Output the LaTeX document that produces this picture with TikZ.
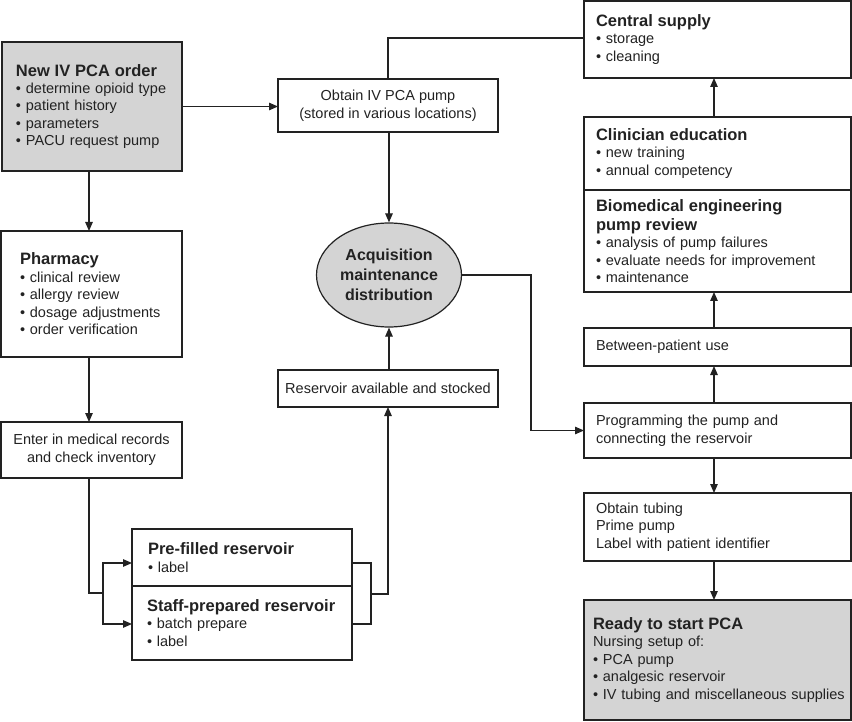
\documentclass[tikz,border=0pt]{standalone}
\usepackage{fontspec}
\setmainfont{Liberation Sans}
\usetikzlibrary{shapes.geometric,arrows.meta,calc}
\definecolor{ink}{HTML}{222222}
\definecolor{shade}{HTML}{D4D4D4}
\newcommand\boxtitle[1]{{\fontsize{16.5}{19}\selectfont\bfseries #1\par}}
\begin{document}
\begin{tikzpicture}[x=1pt,y=-1pt,line width=1.2pt,
  every node/.style={font=\fontsize{14.5}{17.5}\selectfont, text=ink,
    execute at begin node={\hyphenpenalty=10000\exhyphenpenalty=10000\hfuzz=20pt}},
  box/.style={draw=ink, rectangle, inner ysep=0pt, outer sep=0pt},
  gbox/.style={box, fill=shade},
  lft/.style={align=left},
  ctr/.style={align=center, inner xsep=0pt},
  arr/.style={draw=ink, -{Triangle[length=9pt,width=7.5pt]}},
  ln/.style={draw=ink}]
\useasboundingbox (0,0) rectangle (852,722);

% left column
\node[gbox,lft,inner xsep=14pt,text width=152pt,minimum height=129pt,font=\fontsize{14.5}{17.3}\selectfont] (neworder) at (92,106.5)
 {\boxtitle{New IV PCA order}• determine opioid type\\• patient history\\• parameters\\• PACU request pump};
\node[box,lft,inner xsep=19pt,text width=143pt,minimum height=126pt] (pharmacy) at (91.5,294)
 {\boxtitle{Pharmacy}• clinical review\\• allergy review\\• dosage adjustments\\• order verification};
\node[box,ctr,minimum width=181pt,minimum height=56pt] (enter) at (91.5,450)
 {Enter in medical records\\and check inventory};

% middle column
\node[box,ctr,minimum width=220pt,minimum height=53pt] (obtain) at (388,105.5)
 {Obtain IV PCA pump\\(stored in various locations)};
\node[draw=ink,fill=shade,ellipse,minimum width=145pt,minimum height=104pt,inner sep=0pt,align=center,
  font=\fontsize{16}{20}\selectfont\bfseries] (acq) at (389,275)
 {Acquisition\\maintenance\\distribution};
\node[box,ctr,minimum width=220pt,minimum height=37pt] (reservoir) at (388,388.5)
 {Reservoir available and stocked};
\node[box,lft,inner xsep=16pt,text width=188pt,minimum height=57pt] (prefilled) at (242,557.5)
 {\boxtitle{Pre-filled reservoir}• label};
\node[box,lft,inner xsep=15pt,text width=190pt,minimum height=74pt] (staff) at (242,623)
 {\boxtitle{\mbox{Staff-prepared reservoir}}• batch prepare\\• label};

% right column
\node[box,lft,inner xsep=12pt,text width=243pt,minimum height=77pt] (central) at (717.5,39.5)
 {\boxtitle{Central supply}• storage\\• cleaning};
\node[box,lft,inner xsep=12pt,text width=243pt,minimum height=73pt] (clinician) at (717.5,153.5)
 {\boxtitle{Clinician education}• new training\\• annual competency};
\node[box,lft,inner xsep=12pt,text width=243pt,minimum height=102pt] (biomed) at (717.5,241)
 {\boxtitle{Biomedical engineering\\pump review}• analysis of pump failures\\• evaluate needs for improvement\\• maintenance};
\node[box,lft,inner xsep=12pt,text width=243pt,minimum height=38pt] (between) at (717.5,347)
 {Between-patient use};
\node[box,lft,inner xsep=12pt,text width=243pt,minimum height=55pt] (program) at (717.5,430.5)
 {Programming the pump and\\connecting the reservoir};
\node[box,lft,inner xsep=12pt,text width=243pt,minimum height=68pt] (tubing) at (717.5,527)
 {Obtain tubing\\Prime pump\\Label with patient identifier};
\node[gbox,lft,inner xsep=9pt,text width=249pt,minimum height=120pt] (ready) at (717.5,660)
 {\boxtitle{Ready to start PCA}Nursing setup of:\\• PCA pump\\• analgesic reservoir\\\mbox{• IV tubing and miscellaneous supplies}};

% helper coordinates
\coordinate (lx) at (89,0);
\coordinate (rx) at (714,0);
\coordinate (sp) at (103,593);
\coordinate (mj) at (371,594);
\coordinate (tp) at (387,38);
\coordinate (ej) at (531,350);

% connectors
\draw[arr] (neworder.south -| lx) -- (pharmacy.north -| lx);
\draw[arr] (pharmacy.south -| lx) -- (enter.north -| lx);
\draw[ln] (enter.south -| lx) |- (sp);
\draw[arr] (sp) |- ($(prefilled.west)+(0,5.5)$);
\draw[arr] (sp) |- ($(staff.west)+(0,1)$);
\draw[ln] ($(prefilled.east)+(0,5.5)$) -| (mj);
\draw[ln] ($(staff.east)+(0,1)$) -| (mj);
\draw[arr] (mj) -| (reservoir.south);
\draw[arr] (reservoir.north -| acq) -- (acq.south);
\draw[arr] (neworder.east) -- (neworder.east -| obtain.west);
\draw[ln] (obtain.north) |- (central.west |- tp);
\draw[arr] (obtain.south -| acq) -- (acq.north);
\draw[arr] (acq.east) -| (ej) |- (program.west);
\draw[arr] (clinician.north -| rx) -- (central.south -| rx);
\draw[arr] (between.north -| rx) -- (biomed.south -| rx);
\draw[arr] (program.north -| rx) -- (between.south -| rx);
\draw[arr] (program.south -| rx) -- (tubing.north -| rx);
\draw[arr] (tubing.south -| rx) -- (ready.north -| rx);
\end{tikzpicture}
\end{document}
